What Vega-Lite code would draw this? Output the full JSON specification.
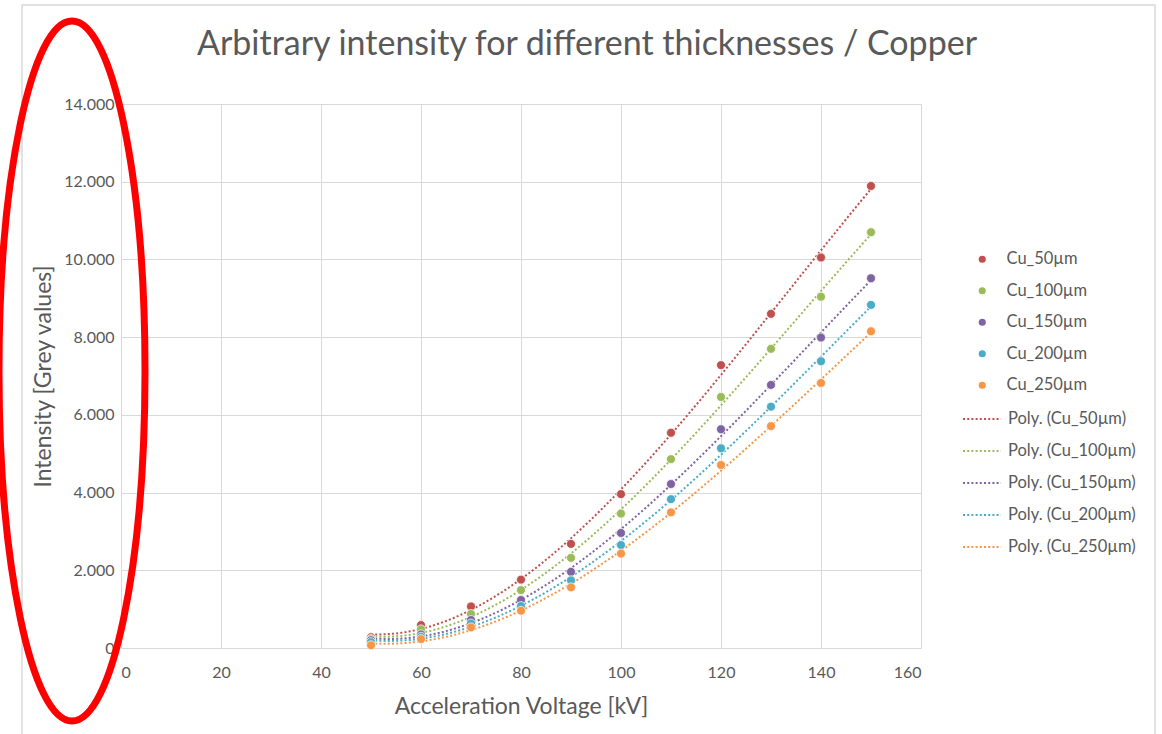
{
  "$schema": "https://vega.github.io/schema/vega-lite/v6.json",
  "width": 800,
  "height": 544,
  "autosize": "none",
  "padding": {"left": 121, "top": 104, "right": 241, "bottom": 86},
  "background": "white",
  "title": {
    "text": "Arbitrary intensity for different thicknesses / Copper",
    "font": "Lato",
    "fontSize": 34,
    "fontWeight": "normal",
    "color": "#595959",
    "anchor": "middle",
    "dx": 66,
    "offset": -58
  },
  "config": {
    "view": {"stroke": null},
    "axis": {
      "labelFont": "Lato",
      "labelFontSize": 16,
      "labelColor": "#595959",
      "titleFont": "Lato",
      "titleFontSize": 23,
      "titleFontWeight": "normal",
      "titleColor": "#595959",
      "grid": true,
      "gridColor": "#d9d9d9",
      "gridWidth": 1,
      "domain": false,
      "ticks": false
    },
    "legend": {
      "labelFont": "Lato",
      "labelFontSize": 16.5,
      "labelColor": "#595959"
    }
  },
  "datasets": {
    "copper": [
      {"series": "Cu_50µm", "kv": 50, "intensity": 275},
      {"series": "Cu_50µm", "kv": 60, "intensity": 590},
      {"series": "Cu_50µm", "kv": 70, "intensity": 1070},
      {"series": "Cu_50µm", "kv": 80, "intensity": 1760},
      {"series": "Cu_50µm", "kv": 90, "intensity": 2680},
      {"series": "Cu_50µm", "kv": 100, "intensity": 3960},
      {"series": "Cu_50µm", "kv": 110, "intensity": 5540},
      {"series": "Cu_50µm", "kv": 120, "intensity": 7280},
      {"series": "Cu_50µm", "kv": 130, "intensity": 8600},
      {"series": "Cu_50µm", "kv": 140, "intensity": 10050},
      {"series": "Cu_50µm", "kv": 150, "intensity": 11890},
      {"series": "Cu_100µm", "kv": 50, "intensity": 230},
      {"series": "Cu_100µm", "kv": 60, "intensity": 480},
      {"series": "Cu_100µm", "kv": 70, "intensity": 875},
      {"series": "Cu_100µm", "kv": 80, "intensity": 1490},
      {"series": "Cu_100µm", "kv": 90, "intensity": 2320},
      {"series": "Cu_100µm", "kv": 100, "intensity": 3460},
      {"series": "Cu_100µm", "kv": 110, "intensity": 4860},
      {"series": "Cu_100µm", "kv": 120, "intensity": 6460},
      {"series": "Cu_100µm", "kv": 130, "intensity": 7700},
      {"series": "Cu_100µm", "kv": 140, "intensity": 9040},
      {"series": "Cu_100µm", "kv": 150, "intensity": 10700},
      {"series": "Cu_150µm", "kv": 50, "intensity": 200},
      {"series": "Cu_150µm", "kv": 60, "intensity": 350},
      {"series": "Cu_150µm", "kv": 70, "intensity": 720},
      {"series": "Cu_150µm", "kv": 80, "intensity": 1235},
      {"series": "Cu_150µm", "kv": 90, "intensity": 1960},
      {"series": "Cu_150µm", "kv": 100, "intensity": 2960},
      {"series": "Cu_150µm", "kv": 110, "intensity": 4220},
      {"series": "Cu_150µm", "kv": 120, "intensity": 5630},
      {"series": "Cu_150µm", "kv": 130, "intensity": 6770},
      {"series": "Cu_150µm", "kv": 140, "intensity": 7990},
      {"series": "Cu_150µm", "kv": 150, "intensity": 9515},
      {"series": "Cu_200µm", "kv": 50, "intensity": 150},
      {"series": "Cu_200µm", "kv": 60, "intensity": 290},
      {"series": "Cu_200µm", "kv": 70, "intensity": 630},
      {"series": "Cu_200µm", "kv": 80, "intensity": 1080},
      {"series": "Cu_200µm", "kv": 90, "intensity": 1740},
      {"series": "Cu_200µm", "kv": 100, "intensity": 2650},
      {"series": "Cu_200µm", "kv": 110, "intensity": 3830},
      {"series": "Cu_200µm", "kv": 120, "intensity": 5140},
      {"series": "Cu_200µm", "kv": 130, "intensity": 6210},
      {"series": "Cu_200µm", "kv": 140, "intensity": 7380},
      {"series": "Cu_200µm", "kv": 150, "intensity": 8830},
      {"series": "Cu_250µm", "kv": 50, "intensity": 70},
      {"series": "Cu_250µm", "kv": 60, "intensity": 230},
      {"series": "Cu_250µm", "kv": 70, "intensity": 530},
      {"series": "Cu_250µm", "kv": 80, "intensity": 960},
      {"series": "Cu_250µm", "kv": 90, "intensity": 1560},
      {"series": "Cu_250µm", "kv": 100, "intensity": 2430},
      {"series": "Cu_250µm", "kv": 110, "intensity": 3490},
      {"series": "Cu_250µm", "kv": 120, "intensity": 4710},
      {"series": "Cu_250µm", "kv": 130, "intensity": 5710},
      {"series": "Cu_250µm", "kv": 140, "intensity": 6820},
      {"series": "Cu_250µm", "kv": 150, "intensity": 8150}
    ]
  },
  "layer": [
    {
      "description": "Chart frame",
      "data": {"values": [{"frame": 1}]},
      "mark": {"type": "rect", "fillOpacity": 0, "stroke": "#d9d9d9", "strokeWidth": 1.5, "clip": false},
      "encoding": {
        "x": {"datum": -19.8},
        "x2": {"datum": 206.8},
        "y": {"datum": 16548},
        "y2": {"datum": -3000}
      }
    },
    {
      "description": "Polynomial trendline per thickness",
      "data": {"name": "copper"},
      "transform": [
        {"regression": "intensity", "on": "kv", "method": "poly", "order": 3, "groupby": ["series"], "extent": [50, 150]}
      ],
      "mark": {"type": "line", "strokeWidth": 2, "strokeDash": [2, 2.2], "strokeCap": "butt"},
      "encoding": {
        "x": {"field": "kv", "type": "quantitative"},
        "y": {"field": "intensity", "type": "quantitative"},
        "color": {
          "field": "series",
          "type": "nominal",
          "scale": {
            "domain": ["Cu_50µm", "Cu_100µm", "Cu_150µm", "Cu_200µm", "Cu_250µm"],
            "range": ["#C0504D", "#9BBB59", "#8064A2", "#4BACC6", "#F79646"]
          },
          "legend": {
            "orient": "none",
            "legendX": 841,
            "legendY": 295,
            "title": null,
            "symbolType": "stroke",
            "symbolSize": 1444,
            "symbolStrokeWidth": 2,
            "symbolDash": [2, 2.2],
            "rowPadding": 3,
            "labelOffset": 6,
            "labelExpr": "'Poly. (' + datum.label + ')'"
          }
        }
      }
    },
    {
      "description": "Measured intensities",
      "data": {"name": "copper"},
      "mark": {"type": "point", "shape": "circle", "filled": true, "opacity": 1, "size": 80, "stroke": "white", "strokeWidth": 0.7},
      "encoding": {
        "x": {
          "field": "kv",
          "type": "quantitative",
          "scale": {"domain": [0, 160], "nice": false, "zero": false},
          "axis": {
            "title": "Acceleration Voltage [kV]",
            "grid": true,
            "values": [0, 20, 40, 60, 80, 100, 120, 140, 160],
            "labelPadding": 16,
            "titlePadding": 15
          }
        },
        "y": {
          "field": "intensity",
          "type": "quantitative",
          "scale": {"domain": [0, 14000], "nice": false},
          "axis": {
            "title": "Intensity [Grey values]",
            "grid": true,
            "values": [0, 2000, 4000, 6000, 8000, 10000, 12000, 14000],
            "labelExpr": "replace(format(datum.value, ',.0f'), ',', '.')",
            "labelPadding": 7,
            "titlePadding": 8
          }
        },
        "color": {
          "field": "series",
          "type": "nominal",
          "scale": {
            "domain": ["Cu_50µm", "Cu_100µm", "Cu_150µm", "Cu_200µm", "Cu_250µm"],
            "range": ["#C0504D", "#9BBB59", "#8064A2", "#4BACC6", "#F79646"]
          },
          "legend": {
            "orient": "none",
            "legendX": 853,
            "legendY": 147,
            "title": null,
            "symbolType": "circle",
            "symbolSize": 75,
            "rowPadding": 14.5,
            "labelOffset": 16
          }
        }
      }
    },
    {
      "description": "Red ellipse highlighting the intensity axis",
      "data": {"values": [{"note": "axis highlight"}]},
      "mark": {
        "type": "point",
        "shape": "M0,-1A0.2086,1,0,1,1,0,1A0.2086,1,0,1,1,0,-1Z",
        "filled": false,
        "stroke": "#ff0000",
        "strokeWidth": 7,
        "opacity": 1,
        "size": 490000,
        "clip": false
      },
      "encoding": {
        "x": {"datum": -9.8},
        "y": {"datum": 7129}
      }
    }
  ],
  "resolve": {"scale": {"color": "independent"}, "legend": {"color": "independent"}}
}
